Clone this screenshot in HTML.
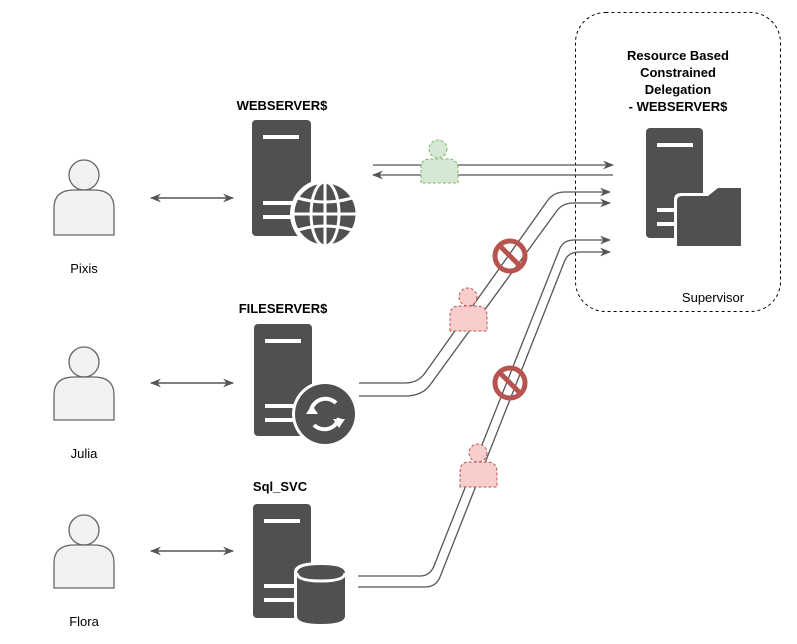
<!DOCTYPE html>
<html><head><meta charset="utf-8"><style>
html,body{margin:0;padding:0;background:#fff;}
svg{display:block;font-family:"Liberation Sans",Arial,sans-serif;}
</style></head><body>
<svg width="797" height="644" viewBox="0 0 797 644" xmlns="http://www.w3.org/2000/svg">
<defs>
<marker id="ah" viewBox="0 0 10 10" refX="9" refY="5" markerWidth="11" markerHeight="11" orient="auto-start-reverse" markerUnits="userSpaceOnUse">
<path d="M0,1 L10,5 L0,9 L3,5 Z" fill="#555"/></marker>
<marker id="ah2" viewBox="0 0 10 10" refX="9" refY="5" markerWidth="11" markerHeight="11" orient="auto-start-reverse" markerUnits="userSpaceOnUse">
<path d="M0,1 L10,5 L0,9 L3,5 Z" fill="#555"/></marker>
</defs>

<rect x="575.5" y="12.5" width="205" height="299" rx="30" fill="none" stroke="#000" stroke-dasharray="3,3"/>
<g font-weight="bold" font-size="13" text-anchor="middle" fill="#000">
<text x="678" y="60">Resource Based</text>
<text x="678" y="77">Constrained</text>
<text x="678" y="94">Delegation</text>
<text x="678" y="111">- WEBSERVER$</text>
<text x="282" y="110">WEBSERVER$</text>
<text x="283" y="313">FILESERVER$</text>
<text x="280" y="491">Sql_SVC</text>
</g>
<text x="713" y="302" font-size="13" text-anchor="middle">Supervisor</text>

<g fill="#f2f2f2" stroke="#666" stroke-width="1.3">
<circle cx="84" cy="175" r="15"/>
<path d="M54,235 V208 Q54,190 74,190 H94 Q114,190 114,208 V235 Z"/>
<circle cx="84" cy="362" r="15"/>
<path d="M54,420 V395 Q54,377 74,377 H94 Q114,377 114,395 V420 Z"/>
<circle cx="84" cy="530" r="15"/>
<path d="M54,588 V563 Q54,545 74,545 H94 Q114,545 114,563 V588 Z"/>
</g>
<g font-size="13" text-anchor="middle">
<text x="84" y="273">Pixis</text>
<text x="84" y="458">Julia</text>
<text x="84" y="626">Flora</text>
</g>

<g stroke="#555" stroke-width="1.5" fill="none">
<line x1="151" y1="198" x2="233" y2="198" marker-start="url(#ah)" marker-end="url(#ah)"/>
<line x1="151" y1="383" x2="233" y2="383" marker-start="url(#ah)" marker-end="url(#ah)"/>
<line x1="151" y1="551" x2="233" y2="551" marker-start="url(#ah)" marker-end="url(#ah)"/>
</g>

<rect x="252" y="120" width="59" height="116" rx="4" fill="#505050"/>
<rect x="263" y="135" width="36" height="4" fill="#fff"/>
<rect x="263" y="201" width="36" height="4" fill="#fff"/>
<rect x="263" y="215" width="36" height="4" fill="#fff"/>
<circle cx="325" cy="214" r="35" fill="#fff"/>
<g stroke="#fff" stroke-width="3" fill="none">
<circle cx="325" cy="214" r="32" fill="#505050"/>
<ellipse cx="325" cy="214" rx="14" ry="32"/>
<line x1="325" y1="182" x2="325" y2="246"/>
<line x1="293" y1="214" x2="357" y2="214"/>
<path d="M298,198 Q325,206 352,198"/>
<path d="M298,230 Q325,222 352,230"/>
</g>

<rect x="254" y="324" width="58" height="112" rx="4" fill="#505050"/>
<rect x="265" y="339" width="36" height="4" fill="#fff"/>
<rect x="265" y="404" width="36" height="4" fill="#fff"/>
<rect x="265" y="418" width="36" height="4" fill="#fff"/>
<circle cx="325" cy="414" r="33" fill="#fff"/>
<circle cx="325" cy="414" r="30" fill="#505050"/>
<g stroke="#fff" stroke-width="4" fill="none">
<path d="M311,410 A15,15 0 0 1 336,403"/>
<path d="M339,418 A15,15 0 0 1 314,425"/>
</g>
<path d="M306,406 L318,406 L312,415 Z" fill="#fff" transform="rotate(180 312 410)"/>
<path d="M333,419 L345,419 L339,428 Z" fill="#fff"/>

<rect x="253" y="504" width="58" height="114" rx="4" fill="#505050"/>
<rect x="264" y="519" width="36" height="4" fill="#fff"/>
<rect x="264" y="584" width="36" height="4" fill="#fff"/>
<rect x="264" y="598" width="36" height="4" fill="#fff"/>
<path d="M294,572 Q294,562 321,562 Q348,562 348,572 V616 Q348,627 321,627 Q294,627 294,616 Z" fill="#fff"/>
<path d="M297,573 Q297,565 321,565 Q345,565 345,573 V616 Q345,624 321,624 Q297,624 297,616 Z" fill="#505050"/>
<path d="M297,573 Q297,581 321,581 Q345,581 345,573" stroke="#fff" stroke-width="3" fill="none"/>

<rect x="646" y="128" width="57" height="110" rx="4" fill="#505050"/>
<rect x="657" y="143" width="36" height="4" fill="#fff"/>
<rect x="657" y="208" width="36" height="4" fill="#fff"/>
<rect x="657" y="222" width="36" height="4" fill="#fff"/>
<path d="M674,246 V200 Q674,193 681,193 H742 V246 Z" fill="#fff"/>
<path d="M677,246 V201 Q677,196 682,196 H741 V246 Z" fill="#505050"/>
<path d="M708,196 L718,188 H741 V196 Z" fill="#505050"/>

<g stroke="#555" stroke-width="1.3" fill="none">
<line x1="373" y1="165" x2="613" y2="165" marker-end="url(#ah2)"/>
<line x1="613" y1="175" x2="373" y2="175" marker-end="url(#ah2)"/>
<path d="M359,383 H405 Q418,383 425,373 L548,200 Q554,192 565,192 H610" marker-end="url(#ah2)"/>
<path d="M359,396 H405 Q422,396 430,385 L556,212 Q562,203 573,203 H610" marker-end="url(#ah2)"/>
<path d="M358,576 H420 Q430,576 434,566 L560,248 Q564,240 574,240 H610" marker-end="url(#ah2)"/>
<path d="M358,587 H425 Q436,587 440,577 L565,260 Q569,252 579,252 H610" marker-end="url(#ah2)"/>
</g>

<g fill="#d5e8d4" stroke="#82b366" stroke-dasharray="3,2">
<circle cx="438" cy="149" r="9"/>
<path d="M421,183 V168 Q421,159 430,159 H448 Q458,159 458,168 V183 Z"/>
</g>
<g fill="#f8cecc" stroke="#b85450" stroke-dasharray="3,2">
<circle cx="468" cy="297" r="9"/>
<path d="M450,331 V316 Q450,306 459,306 H477 Q487,306 487,316 V331 Z"/>
<circle cx="478" cy="453" r="9"/>
<path d="M460,487 V472 Q460,462 469,462 H487 Q497,462 497,472 V487 Z"/>
</g>

<g stroke="#b85450" stroke-width="5" fill="none">
<circle cx="510" cy="256" r="15"/>
<line x1="500" y1="246" x2="520" y2="266"/>
<circle cx="510" cy="383" r="15"/>
<line x1="500" y1="373" x2="520" y2="393"/>
</g>
</svg>
</body></html>
